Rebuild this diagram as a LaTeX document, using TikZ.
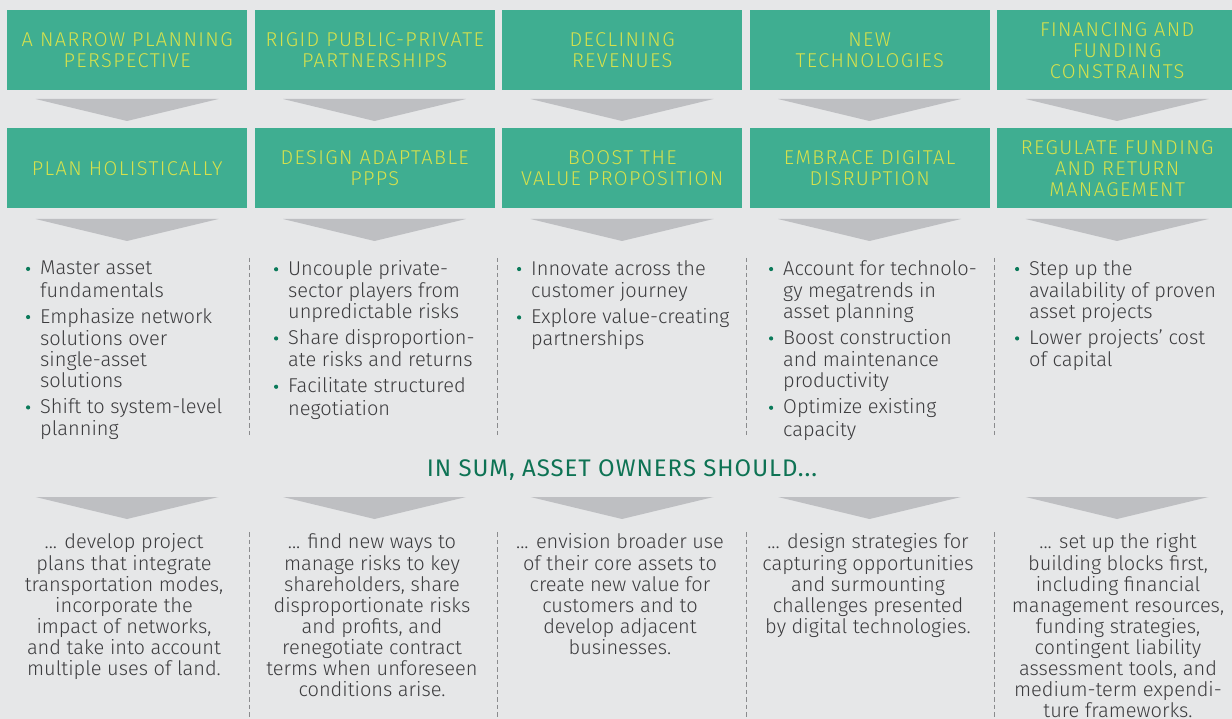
\documentclass[tikz,border=0pt]{standalone}
\usepackage{fontspec}
\setmainfont{Fira Sans Light}
\newfontfamily\capsfont{Fira Sans Light}[LetterSpace=7]
\newfontfamily\headfont{Fira Sans}[LetterSpace=4]
\usepackage{xcolor}
\usepackage{tikz}

\definecolor{bggrey}{HTML}{E6E7E8}
\definecolor{boxgreen}{HTML}{3FAE91}
\definecolor{capyellow}{HTML}{D6E14C}
\definecolor{chevgrey}{HTML}{BEBFC2}
\definecolor{textgrey}{HTML}{3C3C3E}
\definecolor{dotgreen}{HTML}{0B7A5A}
\definecolor{headgreen}{HTML}{0E7354}
\definecolor{sepgrey}{HTML}{8A8B8D}

% grey chevron, centre x and top edge y
\newcommand{\chevron}[2]{\fill[chevgrey] (#1-91.5,#2) -- (#1+91.5,#2) -- (#1,#2+22) -- cycle;}
% green dot hanging left of a list item
\newcommand{\bdot}{\llap{\tikz[baseline=0pt]\fill[dotgreen] (0pt,6pt) circle[radius=2.1pt];\hspace{10pt}}\strut}

\begin{document}
\begin{tikzpicture}[x=1pt, y=-1pt,
    topbox/.style={anchor=north west, fill=boxgreen, minimum width=240pt, minimum height=80pt,
        inner sep=0pt, align=center, text=capyellow, font=\capsfont\fontsize{20}{21}\selectfont},
    points/.style={anchor=north west, align=left, inner sep=0pt, text=textgrey,
        font=\fontsize{20}{21}\selectfont},
    summary/.style={anchor=north, align=center, inner sep=0pt, text=textgrey,
        font=\fontsize{20}{21}\selectfont},
    sep/.style={sepgrey, line width=1pt, dash pattern=on 4.5pt off 3pt}]

    \useasboundingbox (0,0) rectangle (1232,719);
    \fill[bggrey] (0,0) rectangle (1232,719);

    % Challenges
    \node[topbox] (p1) at (7,10) {A NARROW PLANNING\\PERSPECTIVE};
    \node[topbox] (p2) at (254.5,10) {RIGID PUBLIC-PRIVATE\\PARTNERSHIPS};
    \node[topbox] (p3) at (502,10) {DECLINING\\REVENUES};
    \node[topbox] (p4) at (749.5,10) {NEW\\TECHNOLOGIES};
    \node[topbox] (p5) at (997,10) {FINANCING AND\\FUNDING\\CONSTRAINTS};

    \chevron{127}{99}
    \chevron{374.5}{99}
    \chevron{622}{99}
    \chevron{869.5}{99}
    \chevron{1117}{99}

    % Responses
    \node[topbox] (a1) at (7,128) {PLAN HOLISTICALLY};
    \node[topbox] (a2) at (254.5,128) {DESIGN ADAPTABLE\\PPPS};
    \node[topbox] (a3) at (502,128) {BOOST THE\\VALUE PROPOSITION};
    \node[topbox] (a4) at (749.5,128) {EMBRACE DIGITAL\\DISRUPTION};
    \node[topbox] (a5) at (997,128) {REGULATE FUNDING\\AND RETURN\\MANAGEMENT};

    \chevron{127}{219}
    \chevron{374.5}{219}
    \chevron{622}{219}
    \chevron{869.5}{219}
    \chevron{1117}{219}

    % Measures
    \node[points] (l1) at (40,260) {\bdot Master asset\\fundamentals\\[5pt]
        \bdot Emphasize network\\solutions over\\single-asset\\solutions\\[5pt]
        \bdot Shift to system-level\\planning};
    \node[points] (l2) at (288,260) {\bdot Uncouple private-\\sector players from\\unpredictable risks\\[5pt]
        \bdot Share disproportion-\\ate risks and returns\\[5pt]
        \bdot Facilitate structured\\negotiation};
    \node[points] (l3) at (531,260) {\bdot Innovate across the\\customer journey\\[5pt]
        \bdot Explore value-creating\\partnerships};
    \node[points] (l4) at (783,260) {\bdot Account for technolo-\\gy megatrends in\\asset planning\\[5pt]
        \bdot Boost construction\\and maintenance\\productivity\\[5pt]
        \bdot Optimize existing\\capacity};
    \node[points] (l5) at (1029,260) {\bdot Step up the\\availability of proven\\asset projects\\[5pt]
        \bdot Lower projects’ cost\\of capital};

    \draw[sep] (249,258) -- (249,435);
    \draw[sep] (497,258) -- (497,435);
    \draw[sep] (746,258) -- (746,435);
    \draw[sep] (994,258) -- (994,435);

    % Conclusion
    \node[anchor=base, inner sep=0pt, text=headgreen, font=\headfont\fontsize{24}{26}\selectfont]
        (sum) at (622,476) {IN SUM, ASSET OWNERS SHOULD...};

    \chevron{127}{497}
    \chevron{374.5}{497}
    \chevron{622}{497}
    \chevron{869.5}{497}
    \chevron{1117}{497}

    \node[summary] (s1) at (124,533) {\strut... develop project\\plans that integrate\\transportation modes,\\incorporate the\\impact of networks,\\and take into account\\multiple uses of land.};
    \node[summary] (s2) at (372,533) {\strut... find new ways to\\manage risks to key\\shareholders, share\\disproportionate risks\\and profits, and\\renegotiate contract\\terms when unforeseen\\conditions arise.};
    \node[summary] (s3) at (620,533) {\strut... envision broader use\\of their core assets to\\create new value for\\customers and to\\develop adjacent\\businesses.};
    \node[summary] (s4) at (868,533) {\strut... design strategies for\\capturing opportunities\\and surmounting\\challenges presented\\by digital technologies.};
    \node[summary] (s5) at (1118,533) {\strut... set up the right\\building blocks first,\\including financial\\management resources,\\funding strategies,\\contingent liability\\assessment tools, and\\medium-term expendi-\\ture frameworks.};

    \draw[sep] (249,532) -- (249,719);
    \draw[sep] (497,532) -- (497,719);
    \draw[sep] (746,532) -- (746,719);
    \draw[sep] (994,532) -- (994,719);
\end{tikzpicture}
\end{document}
